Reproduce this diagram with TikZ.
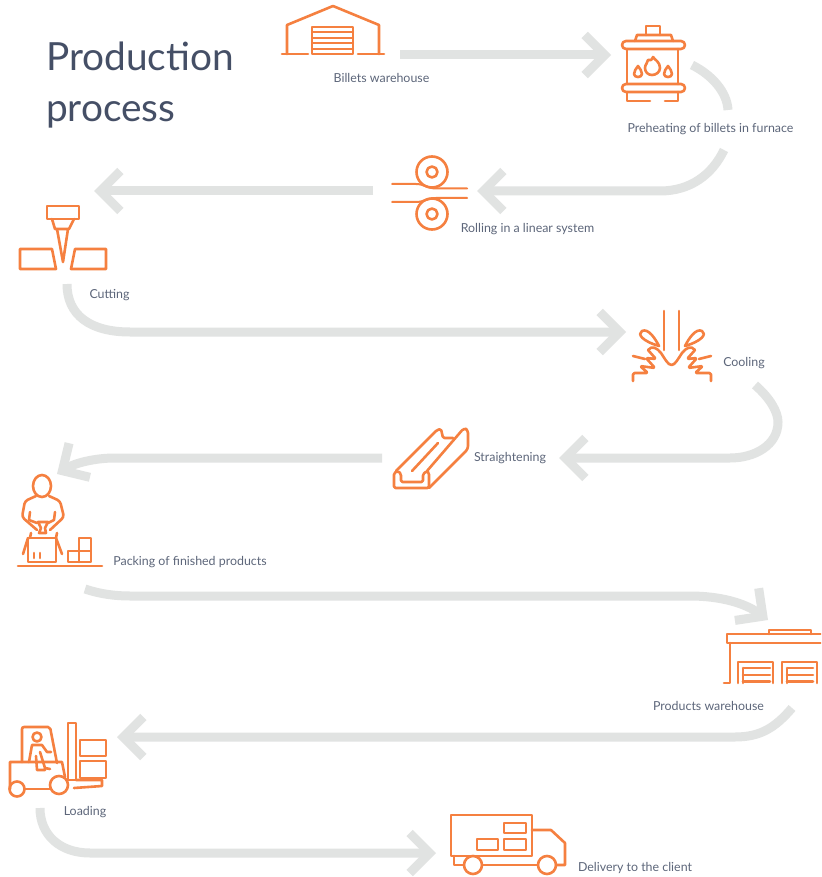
\documentclass[tikz,border=0pt]{standalone}
\usepackage{fontspec}
\setmainfont{Lato}
\usetikzlibrary{arrows.meta}
\definecolor{flowgray}{HTML}{E1E3E2}
\definecolor{iconorange}{HTML}{F58040}
\definecolor{labelgray}{HTML}{5D667A}
\definecolor{titleblue}{HTML}{454F66}
\tikzset{
  flowline/.style={draw=flowgray,line width=9pt},
  flow/.style={flowline,-{Straight Barb[length=20pt,width=40pt,line width=9pt,sharp]}},
  icon/.style={draw=iconorange,line width=2.6pt,line join=round,line cap=round},
  thinicon/.style={icon,line width=2pt},
  lbl/.style={text=labelgray,font=\fontsize{12.4}{14}\selectfont,inner sep=0pt},
  ttl/.style={text=titleblue,font=\fontsize{38.8}{51}\selectfont,align=left,inner sep=0pt,anchor=north west},
}
\begin{document}
\begin{tikzpicture}[x=1pt,y=-1pt]
\useasboundingbox (0,0) rectangle (821,877);
\fill[white] (0,0) rectangle (821,877);

% Connector end points
\coordinate (a1s) at (400,55);   \coordinate (a1e) at (611,55);
\coordinate (a2s) at (692,65);   \coordinate (a2m) at (728,110);
\coordinate (a2r) at (724,150);  \coordinate (a2c) at (660,191);  \coordinate (a2e) at (477,191);
\coordinate (a3s) at (373,191);  \coordinate (a3e) at (94,191);
\coordinate (a4s) at (67,284);   \coordinate (a4c) at (130,332);  \coordinate (a4e) at (626,332);
\coordinate (a5s) at (755,385);  \coordinate (a5c) at (730,458);  \coordinate (a5e) at (559,458);
\coordinate (a6s) at (382,458);  \coordinate (a6c) at (115,458);  \coordinate (a6e) at (57,474);
\coordinate (a7s) at (85,589);   \coordinate (a7c) at (130,596);  \coordinate (a7d) at (690,596); \coordinate (a7e) at (768,620);
\coordinate (a8s) at (792,708);  \coordinate (a8c) at (735,737);  \coordinate (a8e) at (117,737);
\coordinate (a9s) at (40,808);   \coordinate (a9c) at (90,853);   \coordinate (a9e) at (436,853);

% Connectors
\draw[flow] (a1s) -- (a1e);
\draw[flowline] (a2s) .. controls (712,75) and (727,92) .. (a2m);
\draw[flow] (a2r) .. controls (712,175) and (690,191) .. (a2c) -- (a2e);
\draw[flow] (a3s) -- (a3e);
\draw[flow] (a4s) .. controls (67,315) and (90,332) .. (a4c) -- (a4e);
\draw[flow] (a5s) .. controls (770,398) and (778,412) .. (778,422) .. controls (778,445) and (755,458) .. (a5c) -- (a5e);
\draw[flow] (a6s) -- (a6c) .. controls (95,458) and (75,463) .. (a6e);
\draw[flow] (a7s) .. controls (100,594) and (115,596) .. (a7c) -- (a7d) .. controls (720,596) and (745,603) .. (a7e);
\draw[flow] (a8s) .. controls (775,728) and (760,737) .. (a8c) -- (a8e);
\draw[flow] (a9s) .. controls (40,835) and (60,853) .. (a9c) -- (a9e);

% Title and labels
\node[ttl] (title) at (46,42) {Production\\process};
\node[lbl] (l1) at (381.5,78) {Billets warehouse};
\node[lbl] (l2) at (710.5,129) {Preheating of billets in furnace};
\node[lbl] (l3) at (527.5,229) {Rolling in a linear system};
\node[lbl] (l4) at (109.5,295) {Cutting};
\node[lbl] (l5) at (744,363) {Cooling};
\node[lbl] (l6) at (510,458) {Straightening};
\node[lbl] (l7) at (190,562) {Packing of finished products};
\node[lbl] (l8) at (708.5,706) {Products warehouse};
\node[lbl] (l9) at (85,812) {Loading};
\node[lbl] (l10) at (635,868) {Delivery to the client};

% Billets warehouse
\draw[icon] (287,54) -- (287,25) -- (333,6) -- (379,25) -- (379,54);
\draw[icon] (282,54) -- (308,54) (358,54) -- (384,54);
\draw[icon] (312,27) rectangle (353,54);
\draw[thinicon] (312,32.5) -- (353,32.5) (312,38) -- (353,38) (312,43.5) -- (353,43.5) (312,49) -- (353,49);

% Furnace
\draw[icon] (646,35) -- (646,26) -- (660,26) -- (660,35);
\draw[icon] (635,41) -- (637,35) -- (671,35) -- (673,41);
\draw[icon,rounded corners=4pt] (622,41) rectangle (685,49);
\draw[icon] (627,49) -- (627,84) (678,49) -- (678,84);
\draw[icon,rounded corners=4pt] (622,84) rectangle (685,92);
\draw[icon] (650,101) -- (627,101) -- (627,92) (665,101) -- (678,101) -- (678,92);
\draw[icon] (653,57) .. controls (655,60) and (660,62) .. (660,68) .. controls (660,72) and (656,75) .. (652,75) .. controls (648,75) and (645,72) .. (645,68) .. controls (645,64) and (648,63) .. (648,60) .. controls (650,61) and (652,60) .. (653,57) -- cycle;
\draw[icon] (638,66) .. controls (640,69) and (642,71) .. (642,74) .. controls (642,76) and (640,77) .. (638,77) .. controls (636,77) and (634,76) .. (634,74) .. controls (634,71) and (636,69) .. (638,66) -- cycle;
\draw[icon] (668,66) .. controls (670,69) and (672,71) .. (672,74) .. controls (672,76) and (670,77) .. (668,77) .. controls (666,77) and (664,76) .. (664,74) .. controls (664,71) and (666,69) .. (668,66) -- cycle;

% Rolling
\draw[icon] (432,172) circle (15.5);
\draw[icon] (432,172) circle (5.5);
\draw[icon] (432,214) circle (15.5);
\draw[icon] (432,214) circle (5.5);
\draw[thinicon] (392,184) -- (416,184) .. controls (424,184) and (428,188.5) .. (436,188.5) -- (467,188.5);
\draw[thinicon] (392,202) -- (416,202) .. controls (424,202) and (428,198) .. (436,198) -- (467,198);

% Cutting
\draw[icon] (47,206) rectangle (79,219);
\draw[icon] (52,219) -- (55,229) -- (69,229) -- (74,219);
\draw[icon] (57,229) -- (63,262) -- (68,229);
\draw[icon] (20,249) -- (52,249) -- (56,269) -- (20,269) -- cycle;
\draw[icon] (75,249) -- (106,249) -- (106,269) -- (71,269) -- cycle;

% Cooling
\draw[icon] (664,311) -- (664,350) (679,311) -- (679,350);
\draw[icon,rounded corners=1.5pt] (633,381) -- (633,373) -- (648,373) -- (640,366) -- (655,368) -- (646,358) -- (656,359) -- (648,350);
\draw[icon] (648,350) .. controls (652,345) and (657,348) .. (661,353) .. controls (665,359) and (668,365) .. (671.5,365) .. controls (675,365) and (678,359) .. (682,353) .. controls (686,348) and (691,345) .. (695,350);
\draw[icon,rounded corners=1.5pt] (695,350) -- (687,359) -- (697,358) -- (688,368) -- (703,366) -- (695,373) -- (711,373) -- (711,381);
\draw[icon] (659,346) .. controls (655,338) and (648,328) .. (642,331) .. controls (637,334) and (642,341) .. (659,346) -- cycle;
\draw[icon] (685,346) .. controls (689,338) and (696,328) .. (702,331) .. controls (707,334) and (702,341) .. (685,346) -- cycle;
\draw[icon] (633,356) -- (645,359) (711,356) -- (699,359);

% Straightening
\draw[icon,rounded corners=1.5pt] (394,488) -- (394,473) -- (398,471) -- (401,474) -- (401,482) -- (423,482) -- (423,474) -- (427,471) -- (429,473) -- (429,488) -- cycle;
\draw[icon,rounded corners=1.5pt] (396,471) -- (437,430) -- (441,429) -- (443,438) -- (453,438);
\draw[icon,rounded corners=3pt] (429,488) -- (468,449) -- (468,430) -- (464,428) -- (427,471);
\draw[icon] (412,471) -- (438,443);

% Packing
\draw[icon] (42,486) ellipse (9 and 11);
\draw[icon,rounded corners=3pt] (36,496) -- (25,501) -- (22,517) -- (37,530);
\draw[icon,rounded corners=3pt] (49,496) -- (60,501) -- (64,517) -- (50,530);
\draw[icon] (30,512) -- (29,520) -- (37,523);
\draw[icon] (55,512) -- (54,520) -- (48,523);
\draw[icon] (38,522) -- (48,522) -- (45,528) -- (46,533) -- (39,533) -- (41,528) -- cycle;
\draw[icon] (28,538) rectangle (56,562);
\draw[icon] (28,538) -- (23,554) (56,538) -- (62,554);
\draw[icon] (31,533) -- (30,538) (57,533) -- (56,538);
\draw[icon] (34,553) -- (34,558) (40,553) -- (40,558);
\draw[icon] (68,551) rectangle (91,562);
\draw[icon] (79,538) rectangle (91,551);
\draw[icon] (79,551) -- (79,562);
\draw[icon] (18,566) -- (102,566);

% Products warehouse
\begin{scope}
\clip (700,620) rectangle (821,700);
\draw[icon] (769,634) -- (769,630) -- (811,630) -- (811,634);
\draw[icon] (825,634) -- (727,634) -- (727,643) -- (825,643);
\draw[icon] (730,643) -- (730,683) -- (724,683);
\draw[icon] (738,683) -- (738,662) -- (773,662) -- (773,683);
\draw[icon] (743,668) -- (770,668) (743,675) -- (770,675) (743,681.5) -- (770,681.5) (743,668) -- (743,683);
\draw[icon] (782,683) -- (782,662) -- (817,662) -- (817,683);
\draw[icon] (787,668) -- (813,668) (787,675) -- (813,675) (787,681.5) -- (813,681.5) (787,668) -- (787,683);
\end{scope}

% Forklift
\draw[icon,rounded corners=2pt] (22,762) -- (22,727) -- (50,727) -- (57,763);
\draw[icon] (10,789) -- (10,762) -- (62,762) -- (65,777);
\draw[icon] (17,789) circle (7.5);
\draw[icon] (59,785) circle (9);
\draw[icon] (25,789) -- (50,789);
\draw[icon] (68,723) rectangle (76,780);
\draw[icon] (76,780) -- (102,780) -- (102,786) -- (74,788);
\draw[icon] (80,740) rectangle (106,756);
\draw[icon] (80,761) rectangle (106,778);
\draw[icon] (37,737) circle (4.5);
\draw[icon] (29,762) -- (32,745) -- (42,745) -- (47,752) -- (51,752);
\draw[icon] (40,752) -- (45,768) -- (50,769) (37,770) -- (45,770) (36,756) -- (37,770);

% Truck
\draw[icon] (451,815) rectangle (532,856);
\draw[icon] (532,830) -- (551,830) -- (565,843) -- (565,865) -- (556,865);
\draw[icon] (473,865) circle (9);
\draw[icon] (547,865) circle (9);
\draw[icon] (482,865) -- (538,865);
\draw[icon] (454,856) -- (454,865) -- (464,865);
\draw[icon] (504,823) rectangle (526,833);
\draw[icon] (504,839) rectangle (526,850);
\draw[icon] (477,839) rectangle (498,850);
\end{tikzpicture}
\end{document}
